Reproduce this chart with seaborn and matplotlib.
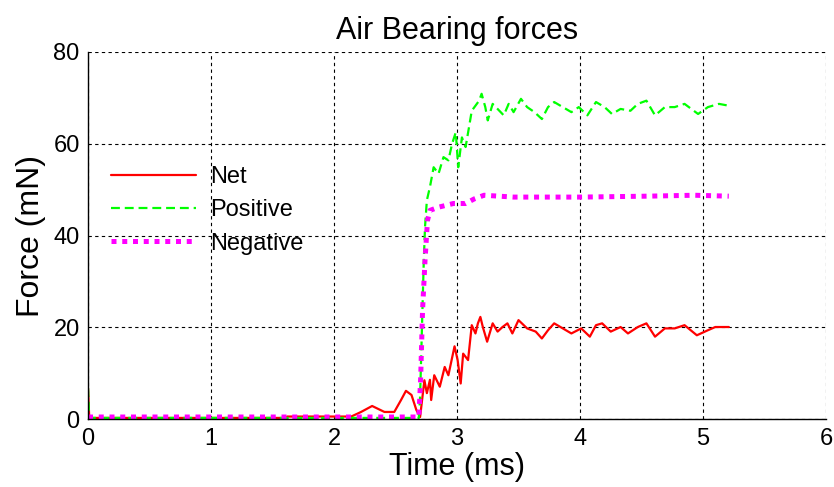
import matplotlib
matplotlib.use("Agg")
import matplotlib.pyplot as plt
import seaborn as sns
import pandas as pd

# ---- data ----
net_t = [0.0, 0.01, 1.60, 1.62, 2.14, 2.22, 2.31, 2.41, 2.49, 2.545, 2.585, 2.63, 2.67, 2.70,
         2.735, 2.755, 2.78, 2.79, 2.815, 2.86, 2.90, 2.93, 2.98, 3.005, 3.03, 3.05, 3.09,
         3.12, 3.15, 3.17, 3.19, 3.21, 3.245, 3.29, 3.33, 3.37, 3.41, 3.45, 3.50, 3.57, 3.64,
         3.69, 3.74, 3.79, 3.86, 3.93, 4.01, 4.08, 4.13, 4.18, 4.25, 4.33, 4.39, 4.47, 4.54,
         4.61, 4.69, 4.77, 4.85, 4.95, 5.04, 5.10, 5.21]
net_f = [6.8, 0.3, 0.3, 0.6, 0.6, 1.6, 2.9, 1.6, 1.6, 4.2, 6.2, 5.3, 2.0, 0.5,
         8.5, 5.7, 8.6, 4.2, 9.6, 7.1, 11.4, 9.6, 15.9, 12.9, 7.8, 14.3, 12.9,
         20.5, 18.7, 20.9, 22.3, 20.1, 16.9, 20.9, 19.1, 20.1, 20.9, 18.7, 21.6, 19.8, 19.1,
         17.6, 19.4, 20.9, 19.8, 18.7, 19.8, 18.0, 20.5, 20.9, 19.1, 20.1, 18.7, 20.1, 20.9,
         18.0, 19.8, 19.8, 20.5, 18.3, 19.4, 20.1, 20.1]

pos_t = [0.0, 0.01, 2.69, 2.70, 2.73, 2.74, 2.755, 2.78, 2.81, 2.85, 2.89, 2.93, 2.96, 2.99,
         3.01, 3.04, 3.07, 3.10, 3.12, 3.15, 3.18, 3.20, 3.23, 3.25, 3.29, 3.33, 3.38, 3.42,
         3.46, 3.52, 3.57, 3.63, 3.69, 3.74, 3.79, 3.86, 3.93, 3.99, 4.06, 4.13, 4.20, 4.26,
         4.33, 4.41, 4.47, 4.54, 4.61, 4.69, 4.77, 4.85, 4.96, 5.04, 5.13, 5.21]
pos_f = [6.8, 0.3, 0.3, 5.0, 34.6, 41.9, 47.7, 50.6, 54.9, 53.5, 57.1, 56.4, 60.0, 62.5,
         54.9, 61.4, 59.3, 64.0, 67.2, 68.3, 69.4, 70.9, 68.0, 65.1, 68.7, 67.6, 66.2, 68.7,
         66.9, 69.8, 68.0, 66.9, 65.4, 68.0, 69.1, 68.0, 66.9, 68.0, 66.2, 69.1, 68.0, 66.5,
         67.6, 67.2, 68.7, 69.4, 66.2, 68.0, 68.0, 68.7, 66.5, 68.0, 68.7, 68.3]

neg_t = [0.0, 2.69, 2.705, 2.72, 2.74, 2.76, 2.78, 2.85, 2.97, 3.07, 3.14, 3.22, 3.46,
         4.01, 4.55, 4.93, 5.21]
neg_f = [0.5, 0.5, 9.3, 23.8, 34.6, 43.3, 45.5, 46.2, 47.0, 47.0, 48.0, 48.8, 48.4,
         48.4, 48.6, 48.8, 48.6]

x_ticks = [0, 1, 2, 3, 4, 5, 6]
y_ticks = [0, 20, 40, 60, 80]
title = "Air Bearing forces"
xlabel = "Time (ms)"
ylabel = "Force (mN)"

# ---- style ----
sns.set_style("white")
plt.rcParams["font.family"] = ["Liberation Sans", "DejaVu Sans"]
plt.rcParams["text.color"] = "black"
plt.rcParams["axes.labelcolor"] = "black"
plt.rcParams["xtick.color"] = "black"
plt.rcParams["ytick.color"] = "black"

W, H = 834, 487
fig = plt.figure(figsize=(W / 100, H / 100), dpi=100)
L, R, T, B = 88, 826, 52, 419.3
ax = fig.add_axes([L / W, 1 - B / H, (R - L) / W, (B - T) / H])

df_net = pd.DataFrame({"t": net_t, "f": net_f})
df_pos = pd.DataFrame({"t": pos_t, "f": pos_f})
df_neg = pd.DataFrame({"t": neg_t, "f": neg_f})

sns.lineplot(data=df_net, x="t", y="f", ax=ax, color="#ff0000", linewidth=1.6,
             estimator=None, sort=False, label="Net")
sns.lineplot(data=df_pos, x="t", y="f", ax=ax, color="#00ff00", linewidth=1.6,
             linestyle=(0, (4, 2.2)), estimator=None, sort=False, label="Positive")
sns.lineplot(data=df_neg, x="t", y="f", ax=ax, color="#ff00ff", linewidth=3.6,
             linestyle=(0, (1, 1.15)), dash_capstyle="butt", estimator=None, sort=False,
             label="Negative")

ax.set_xlim(0, 6)
ax.set_ylim(0, 80)
ax.set_xticks(x_ticks)
ax.set_yticks(y_ticks)
ax.grid(True, color="black", linestyle=(0, (3, 3)), linewidth=0.8)
ax.set_axisbelow(True)
for s in ["top", "right"]:
    ax.spines[s].set_visible(False)
for s in ["left", "bottom"]:
    ax.spines[s].set_color("black")
    ax.spines[s].set_linewidth(1.0)
ax.tick_params(axis="both", direction="in", length=4, width=0.8, labelsize=17,
               colors="black", labelcolor="black", pad=6)

ax.set_title(title, fontsize=22, pad=9, color="black")
ax.set_xlabel(xlabel, fontsize=22, labelpad=2, color="black")
ax.set_ylabel(ylabel, fontsize=23, labelpad=5, color="black")

leg = ax.legend(loc="upper left", bbox_to_anchor=(111 / W, 1 - 166 / H),
                bbox_transform=fig.transFigure, frameon=False, fontsize=17,
                handlelength=3.6, handletextpad=0.6, labelspacing=0.48,
                borderpad=0, borderaxespad=0)
for txt in leg.get_texts():
    txt.set_color("black")

fig.savefig("out.png", dpi=100, facecolor="white")
